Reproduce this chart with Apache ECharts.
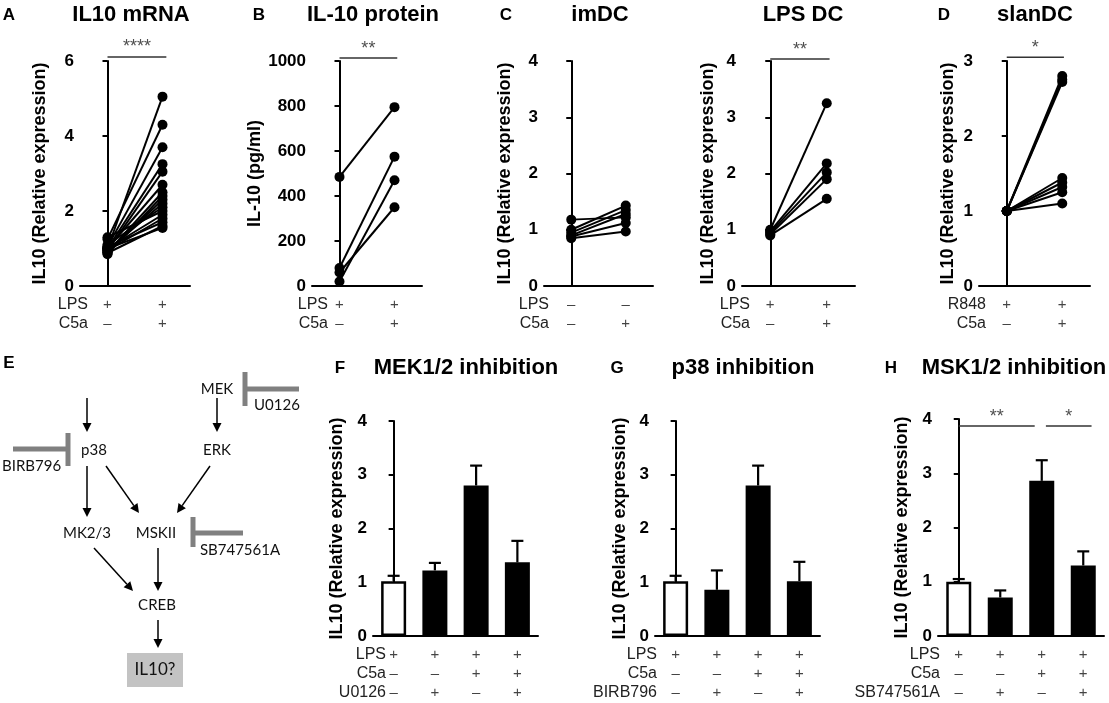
<!DOCTYPE html>
<html>
<head>
<meta charset="utf-8">
<script src="https://cdn.jsdelivr.net/npm/echarts@6/dist/echarts.min.js"></script>
<style>
html, body { margin: 0; background: #fff; }
#main { width: 1109px; height: 703px; }
</style>
</head>
<body>
<div id="main"></div>
<script>
// ---- data ----
// A: IL10 mRNA, paired donors (LPS vs LPS + C5a)
var aPre  = [1.3, 1.25, 1.05, 1.0, 0.95, 1.0, 0.9, 0.85, 1.0, 0.95, 1.1, 0.9, 1.0, 0.95, 1.05, 0.88, 1.0];
var aPost = [2.0, 4.3, 3.7, 3.25, 3.05, 2.7, 2.5, 2.4, 5.05, 2.2, 2.1, 2.3, 1.9, 1.8, 1.7, 1.6, 1.55];
// B: IL-10 protein (pg/ml)
var bPre  = [485, 80, 20, 60];
var bPost = [795, 575, 470, 350];
// C: imDC and LPS DC
var imPre   = [1.18, 1.0, 0.95, 0.9, 0.88, 0.85];
var imPost  = [1.22, 1.43, 1.35, 1.28, 1.12, 0.97];
var lpsPre  = [1.0, 0.97, 0.95, 0.92, 0.9];
var lpsPost = [3.25, 2.18, 2.02, 1.9, 1.55];
// D: slanDC
var slanPre  = [1, 1, 1, 1, 1, 1, 1, 1];
var slanPost = [2.8, 2.75, 2.72, 1.44, 1.38, 1.32, 1.25, 1.1];
// F, G, H: mean and SEM of relative expression
var mekMean = [1.02, 1.22, 2.8, 1.37];
var mekSem  = [0.1, 0.14, 0.37, 0.4];
var p38Mean = [1.02, 0.86, 2.8, 1.02];
var p38Sem  = [0.1, 0.36, 0.37, 0.36];
var mskMean = [1.0, 0.71, 2.86, 1.3];
var mskSem  = [0.05, 0.13, 0.38, 0.26];

// tick labels under the x axes
var lps2 = ['+', '+'];
var c5a2 = ['\u2013', '+'];
var none2 = ['\u2013', '\u2013'];
var lps4 = ['+', '+', '+', '+'];
var c5a4 = ['\u2013', '\u2013', '+', '+'];
var inh4 = ['\u2013', '+', '\u2013', '+'];

var FONT = 'Liberation Sans';
var exprName = 'IL10 (Relative expression)';

var panels = [
  { title: 'IL10 mRNA', cx: 131, ty: 15, letter: 'A', lx: 9, grid: { left: 80, top: 61, width: 110, height: 225 },
    kind: 'pair', pre: aPre, post: aPost, ymax: 6, yint: 2, name: exprName, gap: 31, rowRight: 88,
    rows: [['LPS', lps2], ['C5a', c5a2]], sig: [{ x: [0, 1.07], y: 6.11, t: '****' }] },
  { title: 'IL-10 protein', cx: 373, ty: 15, letter: 'B', lx: 259, grid: { left: 312, top: 61, width: 110, height: 225 },
    kind: 'pair', pre: bPre, post: bPost, ymax: 1000, yint: 200, name: 'IL-10 (pg/ml)', gap: 45, rowRight: 328,
    rows: [['LPS', lps2], ['C5a', c5a2]], sig: [{ x: [0, 1.05], y: 1013, t: '**' }] },
  { title: 'imDC', cx: 600, ty: 15, letter: 'C', lx: 506, grid: { left: 544, top: 61, width: 109, height: 225 },
    kind: 'pair', pre: imPre, post: imPost, ymax: 4, yint: 1, name: exprName, gap: 30, rowRight: 549,
    rows: [['LPS', none2], ['C5a', c5a2]], sig: [] },
  { title: 'LPS DC', cx: 803, ty: 15, letter: null, grid: { left: 742, top: 61, width: 113, height: 225 },
    kind: 'pair', pre: lpsPre, post: lpsPost, ymax: 4, yint: 1, name: exprName, gap: 25, rowRight: 750,
    rows: [['LPS', lps2], ['C5a', c5a2]], sig: [{ x: [0, 1.05], y: 4.035, t: '**' }] },
  { title: 'slanDC', cx: 1035, ty: 15, letter: 'D', lx: 944, grid: { left: 979, top: 61, width: 111, height: 225 },
    kind: 'pair', pre: slanPre, post: slanPost, ymax: 3, yint: 1, name: exprName, gap: 22, rowRight: 986,
    rows: [['R848', lps2], ['C5a', c5a2]], sig: [{ x: [0, 1.03], y: 3.05, t: '*' }] },
  { title: 'MEK1/2 inhibition', cx: 466, ty: 368, letter: 'F', lx: 340, grid: { left: 373, top: 421, width: 165, height: 215 },
    kind: 'bar', mean: mekMean, sem: mekSem, ymax: 4, yint: 1, name: exprName, gap: 27, rowRight: 386,
    rows: [['LPS', lps4], ['C5a', c5a4], ['U0126', inh4]], sig: [] },
  { title: 'p38 inhibition', cx: 743, ty: 368, letter: 'G', lx: 617, grid: { left: 655, top: 421, width: 165, height: 215 },
    kind: 'bar', mean: p38Mean, sem: p38Sem, ymax: 4, yint: 1, name: exprName, gap: 26, rowRight: 657,
    rows: [['LPS', lps4], ['C5a', c5a4], ['BIRB796', inh4]], sig: [] },
  { title: 'MSK1/2 inhibition', cx: 1014, ty: 368, letter: 'H', lx: 891, grid: { left: 938, top: 419, width: 166, height: 217 },
    kind: 'bar', mean: mskMean, sem: mskSem, ymax: 4, yint: 1, name: exprName, gap: 27, rowRight: 940,
    rows: [['LPS', lps4], ['C5a', c5a4], ['SB747561A', inh4]],
    sig: [{ x: [0, 1.83], y: 3.87, t: '**' }, { x: [2.1, 3.2], y: 3.87, t: '*' }] }
];

var grids = [], xAxes = [], yAxes = [], series = [], graphics = [];

function errRender(params, api) {
  var x = api.value(0), m = api.value(1), s = api.value(2);
  var p0 = api.coord([x, m]), p1 = api.coord([x, m + s]);
  return {
    type: 'group',
    children: [
      { type: 'line', shape: { x1: p0[0], y1: p0[1], x2: p1[0], y2: p1[1] }, style: { stroke: '#000', lineWidth: 2.2 } },
      { type: 'line', shape: { x1: p1[0] - 6, y1: p1[1], x2: p1[0] + 6, y2: p1[1] }, style: { stroke: '#000', lineWidth: 2.2 } }
    ]
  };
}

panels.forEach(function (p, k) {
  var n = p.rows[0][1].length;
  var cats = [];
  for (var i = 0; i < n; i++) {
    cats.push(p.rows.map(function (r) { return r[1][i]; }).join('\n'));
  }
  grids.push(p.grid);
  xAxes.push({
    gridIndex: k, type: 'category', data: cats, boundaryGap: true,
    axisLine: { lineStyle: { color: '#000', width: 2 } },
    axisTick: { alignWithLabel: true, length: 5, lineStyle: { color: '#000', width: 2 } },
    axisLabel: { interval: 0, margin: 9, lineHeight: 19, fontSize: 15, color: '#444', fontFamily: FONT }
  });
  xAxes.push({ gridIndex: k, type: 'value', min: -0.5, max: n - 0.5, show: false });
  yAxes.push({
    gridIndex: k, type: 'value', min: 0, max: p.ymax, interval: p.yint,
    name: p.name, nameLocation: 'middle', nameGap: p.gap,
    nameTextStyle: { fontWeight: 'bold', fontSize: 18, color: '#000', fontFamily: FONT },
    axisLine: { show: true, lineStyle: { color: '#000', width: 2 } },
    axisTick: { show: true, length: 5, lineStyle: { color: '#000', width: 2 } },
    axisLabel: { fontWeight: 'bold', fontSize: 17, color: '#000', margin: 6, fontFamily: FONT,
      formatter: function (v) { return String(v); } },
    splitLine: { show: false }
  });

  if (p.kind === 'pair') {
    p.pre.forEach(function (v, i) {
      series.push({
        type: 'line', xAxisIndex: 2 * k, yAxisIndex: k, data: [v, p.post[i]],
        symbol: 'circle', symbolSize: 10, itemStyle: { color: '#000' },
        lineStyle: { color: '#000', width: 2 }, silent: true
      });
    });
  } else {
    series.push({
      type: 'bar', xAxisIndex: 2 * k, yAxisIndex: k, barWidth: 25,
      data: p.mean.map(function (v, i) {
        return { value: v, itemStyle: i === 0 ? { color: '#fff', borderColor: '#000', borderWidth: 2.5 } : { color: '#000' } };
      })
    });
    series.push({
      type: 'custom', xAxisIndex: 2 * k, yAxisIndex: k, z: 5, renderItem: errRender,
      data: p.mean.map(function (v, i) { return [i, v, p.sem[i]]; })
    });
  }

  p.sig.forEach(function (s) {
    series.push({
      type: 'line', xAxisIndex: 2 * k + 1, yAxisIndex: k, clip: false, symbol: 'none',
      data: [[s.x[0], s.y], [s.x[1], s.y]], lineStyle: { color: '#333', width: 1.5 }
    });
    series.push({
      type: 'scatter', xAxisIndex: 2 * k + 1, yAxisIndex: k, clip: false, symbolSize: 1,
      itemStyle: { color: 'rgba(0,0,0,0)' },
      data: [[(s.x[0] + s.x[1]) / 2, s.y]],
      label: { show: true, position: 'top', distance: 0, formatter: s.t, fontSize: 18, color: '#222', fontFamily: FONT }
    });
  });

  // titles, panel letters and row names
  graphics.push({ type: 'text', x: p.cx, y: p.ty, style: { text: p.title, font: 'bold 22px ' + FONT, fill: '#000', textAlign: 'center', textVerticalAlign: 'middle' } });
  if (p.letter) {
    graphics.push({ type: 'text', x: p.lx, y: p.ty, style: { text: p.letter, font: 'bold 17px ' + FONT, fill: '#000', textAlign: 'center', textVerticalAlign: 'middle' } });
  }
  var base = p.grid.top + p.grid.height;
  p.rows.forEach(function (r, j) {
    graphics.push({ type: 'text', x: p.rowRight, y: base + 19 + 19 * j, style: { text: r[0], font: '16px ' + FONT, fill: '#222', textAlign: 'right', textVerticalAlign: 'middle' } });
  });
});

// ---- panel E: pathway diagram ----
var DF = 'Lato';
function label(t, x, y, align) {
  return { type: 'text', x: x, y: y, style: { text: t, font: '15px ' + DF, fill: '#111', textAlign: align || 'center', textVerticalAlign: 'middle' } };
}
function arrow(x1, y1, x2, y2) {
  var a = Math.atan2(y2 - y1, x2 - x1), L = 9, W = 4.5;
  var bx = x2 - L * Math.cos(a), by = y2 - L * Math.sin(a);
  return [
    { type: 'line', shape: { x1: x1, y1: y1, x2: bx, y2: by }, style: { stroke: '#000', lineWidth: 1.5 } },
    { type: 'polygon', shape: { points: [[x2, y2], [bx + W * Math.sin(a), by - W * Math.cos(a)], [bx - W * Math.sin(a), by + W * Math.cos(a)]] }, style: { fill: '#000' } }
  ];
}
function bar(x1, y1, x2, y2) {
  return { type: 'line', shape: { x1: x1, y1: y1, x2: x2, y2: y2 }, style: { stroke: '#808080', lineWidth: 5 } };
}
graphics.push({ type: 'text', x: 9, y: 363, style: { text: 'E', font: 'bold 17px ' + FONT, fill: '#000', textAlign: 'center', textVerticalAlign: 'middle' } });
graphics.push(label('MEK', 217, 389), label('p38', 94, 450), label('ERK', 217, 450),
  label('MK2/3', 87, 533), label('MSKII', 156, 533), label('CREB', 157, 605),
  label('BIRB796', 2, 466, 'left'), label('U0126', 277, 405), label('SB747561A', 240, 550));
graphics = graphics.concat(
  arrow(87, 398, 87, 432), arrow(217, 398, 217, 432),
  arrow(87, 466, 87, 517), arrow(106, 466, 139, 513), arrow(210, 466, 177, 513),
  arrow(94, 548, 133, 591), arrow(158, 548, 158, 591), arrow(158, 620, 158, 648)
);
graphics.push(bar(13, 449, 68, 449), bar(68, 433, 68, 466),
  bar(245, 372, 245, 406), bar(245, 389, 299, 389),
  bar(193, 517, 193, 547), bar(193, 533, 243, 533));
graphics.push({ type: 'rect', shape: { x: 127, y: 653, width: 56, height: 34 }, style: { fill: '#c3c3c3' } });
graphics.push({ type: 'text', x: 155, y: 670, style: { text: 'IL10?', font: '17px ' + DF, fill: '#111', textAlign: 'center', textVerticalAlign: 'middle' } });

var chart = echarts.init(document.getElementById('main'));
var option = {
  animation: false,
  backgroundColor: '#fff',
  grid: grids,
  xAxis: xAxes,
  yAxis: yAxes,
  series: series,
  graphic: graphics
};
chart.setOption(option);
</script>
</body>
</html>
